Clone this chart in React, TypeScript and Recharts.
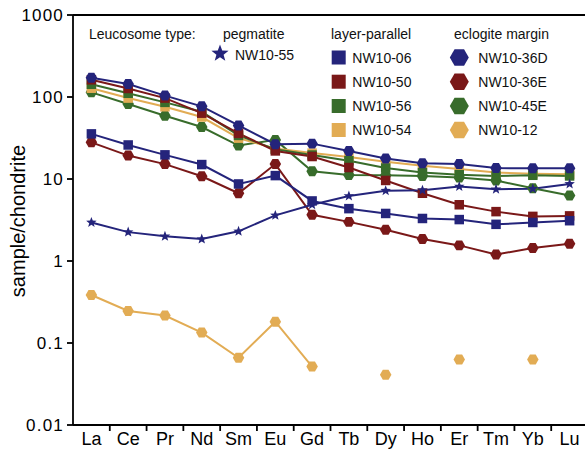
import React from "react";
import { Line, LineChart, ReferenceLine, XAxis, YAxis } from "recharts";

const elements = ["La", "Ce", "Pr", "Nd", "Sm", "Eu", "Gd", "Tb", "Dy", "Ho", "Er", "Tm", "Yb", "Lu"];
const yTicks = [0.01, 0.1, 1, 10, 100, 1000];

// pegmatite
const nw1055 = [2.95, 2.25, 2.0, 1.85, 2.3, 3.6, 4.85, 6.2, 7.2, 7.3, 8.1, 7.5, 7.6, 8.7];
// layer-parallel
const nw1006 = [35.5, 26, 19.7, 15, 8.7, 11, 5.4, 4.35, 3.8, 3.3, 3.2, 2.8, 2.95, 3.1];
const nw1050 = [162, 127, 97, 63.5, 36, 22, 18.8, 13.8, 9.6, 6.7, 4.85, 4.0, 3.5, 3.55];
const nw1056 = [143, 111, 86, 66, 34, 23, 19.6, 16.7, 13.6, 12, 11.3, 10.9, 11.1, 10.9];
const nw1054 = [128, 97, 76, 57, 31.5, 23.5, 20.7, 18.5, 16.2, 14.5, 13.2, 12, 11.6, 11.4];
// eclogite margin
const nw1036D = [172, 144, 104, 77, 45, 26.6, 27, 22, 17.8, 15.6, 15.2, 13.6, 13.5, 13.5];
const nw1036E = [28, 19.3, 15.2, 10.8, 6.7, 15.2, 3.66, 3.0, 2.4, 1.85, 1.55, 1.2, 1.44, 1.62];
const nw1045E = [114, 82, 59, 43, 25.6, 30, 12.4, 11.2, 11.1, 10.9, 10.4, 9.6, 7.7, 6.3];
const nw1012 = [0.385, 0.246, 0.216, 0.134, 0.066, 0.182, 0.0516, null, 0.041, null, 0.063, null, 0.063, null];

const NAVY = "#24247b";
const RED = "#7a1818";
const GREEN = "#386c2b";
const GOLD = "#e2ac54";
const FONT = "'Liberation Sans', Arial, Helvetica, sans-serif";

type Shape = "star" | "square" | "hex";

const series: { key: string; name: string; values: (number | null)[]; color: string; shape: Shape }[] = [
  { key: "nw1012", name: "NW10-12", values: nw1012, color: GOLD, shape: "hex" },
  { key: "nw1045E", name: "NW10-45E", values: nw1045E, color: GREEN, shape: "hex" },
  { key: "nw1054", name: "NW10-54", values: nw1054, color: GOLD, shape: "square" },
  { key: "nw1056", name: "NW10-56", values: nw1056, color: GREEN, shape: "square" },
  { key: "nw1036E", name: "NW10-36E", values: nw1036E, color: RED, shape: "hex" },
  { key: "nw1050", name: "NW10-50", values: nw1050, color: RED, shape: "square" },
  { key: "nw1006", name: "NW10-06", values: nw1006, color: NAVY, shape: "square" },
  { key: "nw1036D", name: "NW10-36D", values: nw1036D, color: NAVY, shape: "hex" },
  { key: "nw1055", name: "NW10-55", values: nw1055, color: NAVY, shape: "star" },
];

const data = elements.map((el, i) => {
  const row: Record<string, number | string | null> = { x: i + 0.5, el };
  series.forEach((s) => (row[s.key] = s.values[i]));
  return row;
});

// label at each category centre, tick mark on each boundary
const xTicks = elements.flatMap((_, i) => (i === 0 ? [0.5] : [i, i + 0.5]));

function starPath(cx: number, cy: number, r: number) {
  const pts: string[] = [];
  for (let i = 0; i < 10; i++) {
    const rad = i % 2 === 0 ? r : r * 0.42;
    const a = -Math.PI / 2 + (i * Math.PI) / 5;
    pts.push(`${(cx + rad * Math.cos(a)).toFixed(2)},${(cy + rad * Math.sin(a)).toFixed(2)}`);
  }
  return `M${pts.join("L")}Z`;
}

function hexPath(cx: number, cy: number, w: number) {
  const h = (w * Math.sqrt(3)) / 2;
  const p = [
    [cx - w / 2, cy],
    [cx - w / 4, cy - h / 2],
    [cx + w / 4, cy - h / 2],
    [cx + w / 2, cy],
    [cx + w / 4, cy + h / 2],
    [cx - w / 4, cy + h / 2],
  ];
  return `M${p.map((q) => q.join(",")).join("L")}Z`;
}

function Marker({ shape, cx, cy, color, big }: { shape: Shape; cx: number; cy: number; color: string; big?: boolean }) {
  if (shape === "square") {
    const s = big ? 14 : 9.5;
    return <rect x={cx - s / 2} y={cy - s / 2} width={s} height={s} fill={color} />;
  }
  if (shape === "hex") return <path d={hexPath(cx, cy, big ? 19 : 11.5)} fill={color} />;
  return <path d={starPath(cx, cy, big ? 9 : 5.5)} fill={color} />;
}

const XTick = (props: any) => {
  const { x, y, payload } = props;
  const v = payload.value as number;
  if (Number.isInteger(v)) {
    return <line x1={x} x2={x} y1={y} y2={y + 6} stroke="#000" strokeWidth={1.8} />;
  }
  return (
    <text x={x} y={y + 7} dy="0.71em" textAnchor="middle" fontSize={18} fill="#000" fontFamily={FONT}>
      {elements[Math.floor(v)]}
    </text>
  );
};

function LegendOverlay() {
  const rows = [57.5, 81.7, 106, 130];
  const layer = ["nw1006", "nw1050", "nw1056", "nw1054"];
  const eclog = ["nw1036D", "nw1036E", "nw1045E", "nw1012"];
  const get = (k: string) => series.find((s) => s.key === k)!;
  const txt = { fontSize: 14, fill: "#111", fontFamily: FONT } as const;
  return (
    <svg width={585} height={451} style={{ position: "absolute", left: 0, top: 0, pointerEvents: "none" }}>
      <text x={18} y={221} transform="rotate(-90 18 221)" textAnchor="middle" dominantBaseline="central" fontSize={20} fontFamily={FONT} fill="#000">
        sample/chondrite
      </text>
      <text x={89} y={39} {...txt}>Leucosome type:</text>
      <text x={223} y={39} {...txt}>pegmatite</text>
      <text x={331} y={39} {...txt}>layer-parallel</text>
      <text x={454} y={39} {...txt}>eclogite margin</text>
      <Marker shape="star" cx={220} cy={53.5} color={NAVY} big />
      <text x={235} y={60} {...txt}>NW10-55</text>
      {layer.map((k, i) => (
        <g key={k}>
          <Marker shape="square" cx={338.7} cy={rows[i]} color={get(k).color} big />
          <text x={352.3} y={rows[i] + 5} {...txt}>{get(k).name}</text>
        </g>
      ))}
      {eclog.map((k, i) => (
        <g key={k}>
          <Marker shape="hex" cx={459.3} cy={rows[i]} color={get(k).color} big />
          <text x={478.3} y={rows[i] + 5} {...txt}>{get(k).name}</text>
        </g>
      ))}
    </svg>
  );
}

export default function App() {
  return (
    <div style={{ position: "absolute", left: 0, top: 0, width: 585, height: 451, overflow: "hidden", background: "#fff", fontFamily: FONT }}>
      <LineChart width={600} height={451} data={data} margin={{ top: 15, right: 12, bottom: 0, left: 0 }}>
        <XAxis
          dataKey="x"
          type="number"
          domain={[0, 14]}
          ticks={xTicks}
          interval={0}
          allowDataOverflow
          tickLine={false}
          tickSize={0}
          tickMargin={0}
          tick={<XTick />}
          height={26}
          axisLine={{ stroke: "#000", strokeWidth: 1.8 }}
        />
        <YAxis
          type="number"
          scale="log"
          domain={[0.01, 1000]}
          ticks={yTicks}
          interval={0}
          allowDataOverflow
          width={73}
          tickSize={6}
          tickMargin={3}
          tickFormatter={(v) => String(v)}
          tick={{ fontSize: 17, fill: "#000", fontFamily: FONT, letterSpacing: 1.2 }}
          tickLine={{ stroke: "#000", strokeWidth: 1.8 }}
          axisLine={{ stroke: "#000", strokeWidth: 1.8 }}
        />
        <ReferenceLine y={1000} stroke="#000" strokeWidth={1.8} />
        {series.map((s) => (
          <Line
            key={s.key}
            dataKey={s.key}
            name={s.name}
            stroke={s.color}
            strokeWidth={2}
            connectNulls={false}
            isAnimationActive={false}
            activeDot={false}
            dot={(p: any) => {
              const k = `${s.key}-${p.index}`;
              if (p.cx == null || p.cy == null || p.value == null) return <g key={k} />;
              return (
                <g key={k}>
                  <Marker shape={s.shape} cx={p.cx} cy={p.cy} color={s.color} />
                </g>
              );
            }}
          />
        ))}
      </LineChart>
      <LegendOverlay />
    </div>
  );
}
